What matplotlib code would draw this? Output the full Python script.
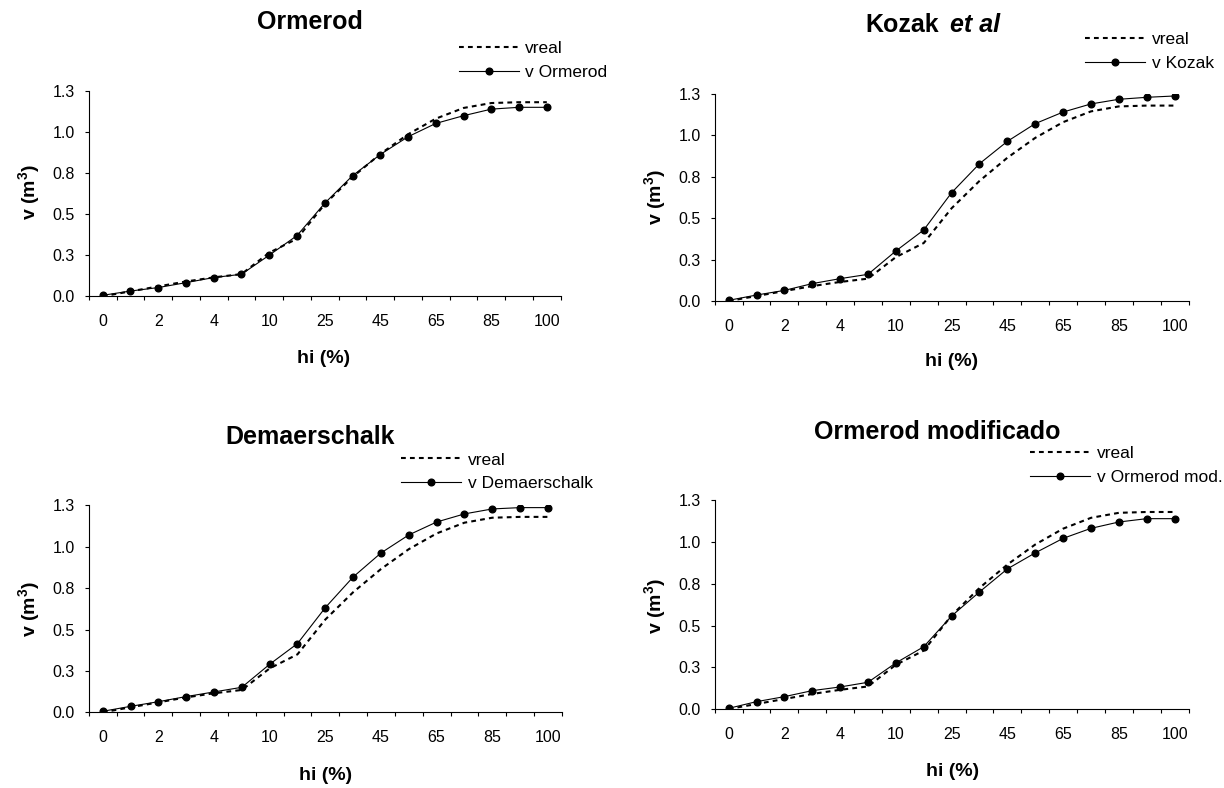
import numpy as np
import matplotlib
matplotlib.use('Agg')
import matplotlib.pyplot as plt
from matplotlib.lines import Line2D

plt.rcParams['font.family'] = ['Liberation Sans', 'DejaVu Sans']
plt.rcParams['mathtext.fontset'] = 'custom'
plt.rcParams['mathtext.rm'] = 'Liberation Sans'
plt.rcParams['mathtext.bf'] = 'Liberation Sans:bold'
plt.rcParams['mathtext.it'] = 'Liberation Sans:italic'

# ---------------- data ----------------
hi = [0, 1, 2, 3, 4, 5, 10, 15, 25, 35, 45, 55, 65, 75, 85, 95, 100]
v_real = [0.0, 0.03, 0.06, 0.09, 0.115, 0.135, 0.265, 0.35, 0.56, 0.725,
          0.865, 0.985, 1.08, 1.145, 1.175, 1.18, 1.18]
v_ormerod = [0.006, 0.032, 0.053, 0.083, 0.114, 0.134, 0.25, 0.369, 0.566, 0.733,
             0.862, 0.97, 1.051, 1.098, 1.138, 1.149, 1.149]
v_kozak = [0.004, 0.036, 0.064, 0.105, 0.135, 0.161, 0.302, 0.429, 0.654, 0.829,
           0.964, 1.071, 1.141, 1.19, 1.218, 1.23, 1.238]
v_demaerschalk = [0.006, 0.036, 0.064, 0.095, 0.123, 0.151, 0.29, 0.415, 0.632, 0.817,
                  0.962, 1.071, 1.149, 1.198, 1.228, 1.236, 1.236]
v_ormerod_mod = [0.004, 0.044, 0.074, 0.11, 0.132, 0.16, 0.276, 0.373, 0.557, 0.701,
                 0.839, 0.935, 1.022, 1.082, 1.12, 1.14, 1.14]

y_ticks = [0.0, 0.25, 0.5, 0.75, 1.0, 1.25]
y_tick_labels = ["0.0", "0.3", "0.5", "0.8", "1.0", "1.3"]

titles = ["Ormerod", "Kozak et al", "Demaerschalk", "Ormerod modificado"]
model_labels = ["v Ormerod", "v Kozak", "v Demaerschalk", "v Ormerod mod."]
model_series = [v_ormerod, v_kozak, v_demaerschalk, v_ormerod_mod]
real_label = "vreal"
x_label = "hi (%)"
y_label = r"v (m$^{\mathbf{3}}$)"

# ---------------- layout (pixels) ----------------
W, H = 1224, 788
fig = plt.figure(figsize=(W / 100, H / 100), dpi=100)
fig.patch.set_facecolor('white')

def fx(px):
    return px / W

def fy(py):
    return 1 - py / H

# axes boxes: left, right, top, bottom
boxes = [(88.8, 560.7, 90.7, 296.3),
         (714.7, 1188.5, 94.0, 301.0),
         (88.8, 561.8, 505.3, 712.3),
         (714.7, 1188.5, 500.3, 709.0)]
title_pos = [(309.6, 21.7), None, (310.0, 436.7), (937.0, 431.7)]
legend_pos = [(458.5, 60.3), (1085.0, 51.3), (401.0, 471.7), (1030.4, 465.3)]
xlabel_pos = [(324.0, 358.3), (951.6, 361.7), (326.0, 775.0), (952.5, 771.7)]
ylabel_pos = [(28.7, 192.5), (655.0, 196.7), (28.7, 609.0), (655.0, 605.8)]

TICK_FS = 11.5
LEG_FS = 12.5
LAB_FS = 14
TITLE_FS = 18

x = np.arange(len(hi))
label_idx = x[::2]

for i in range(4):
    l, r, t, b = boxes[i]
    ax = fig.add_axes([fx(l), fy(b), (r - l) / W, (b - t) / H])
    ax.set_facecolor('white')
    dash = (0, (2.3, 2.0))
    ax.plot(x, v_real, color='black', linewidth=1.5, linestyle=dash, zorder=2)
    ax.plot(x, model_series[i], color='black', linewidth=0.8, marker='o',
            markersize=4.8, markerfacecolor='black', markeredgecolor='black', zorder=3)

    ax.set_xlim(-0.5, len(hi) - 0.5)
    ax.set_ylim(0, 1.25)
    for s in ['top', 'right']:
        ax.spines[s].set_visible(False)
    for s in ['left', 'bottom']:
        ax.spines[s].set_linewidth(0.8)
        ax.spines[s].set_color('black')

    ax.set_xticks(np.arange(-0.5, len(hi), 1.0))
    ax.set_xticklabels([])
    ax.set_xticks(label_idx, minor=True)
    ax.set_xticklabels([str(hi[j]) for j in label_idx], minor=True)
    ax.tick_params(axis='x', which='major', direction='out', length=3, width=0.8, color='black')
    ax.tick_params(axis='x', which='minor', length=0, pad=13, labelsize=TICK_FS)

    ax.set_yticks(y_ticks)
    ax.set_yticklabels(y_tick_labels)
    ax.tick_params(axis='y', direction='out', length=3, width=0.8, pad=7, labelsize=TICK_FS)

    handles = [Line2D([], [], color='black', linewidth=1.5, linestyle=dash),
               Line2D([], [], color='black', linewidth=0.8, marker='o', markersize=4.8)]
    lx, ly = legend_pos[i]
    fs_px = LEG_FS * 100 / 72
    ax.legend(handles, [real_label, model_labels[i]], loc='center left',
              bbox_to_anchor=(fx(lx), fy(ly)), bbox_transform=fig.transFigure,
              frameon=False, borderpad=0, borderaxespad=0,
              handlelength=60 / fs_px, handletextpad=6.5 / fs_px,
              labelspacing=0.48, fontsize=LEG_FS)

    xlx, xly = xlabel_pos[i]
    fig.text(fx(xlx), fy(xly), x_label, ha='center', va='center',
             fontsize=LAB_FS, fontweight='bold')
    ylx, yly = ylabel_pos[i]
    fig.text(fx(ylx), fy(yly), y_label, ha='center', va='center', rotation=90,
             fontsize=LAB_FS, fontweight='bold')

    if title_pos[i] is not None:
        tx, ty = title_pos[i]
        fig.text(fx(tx), fy(ty), titles[i], ha='center', va='center',
                 fontsize=TITLE_FS, fontweight='bold')

# Kozak et al title with italic part
kz_main, kz_ital = titles[1].split(' ', 1)
fig.text(fx(865.7), fy(25.0), kz_main, ha='left', va='center',
         fontsize=TITLE_FS, fontweight='bold')
fig.text(fx(950.5), fy(25.0), kz_ital, ha='left', va='center',
         fontsize=TITLE_FS, fontweight='bold', fontstyle='italic')

fig.savefig('out.png', dpi=100, facecolor='white')
